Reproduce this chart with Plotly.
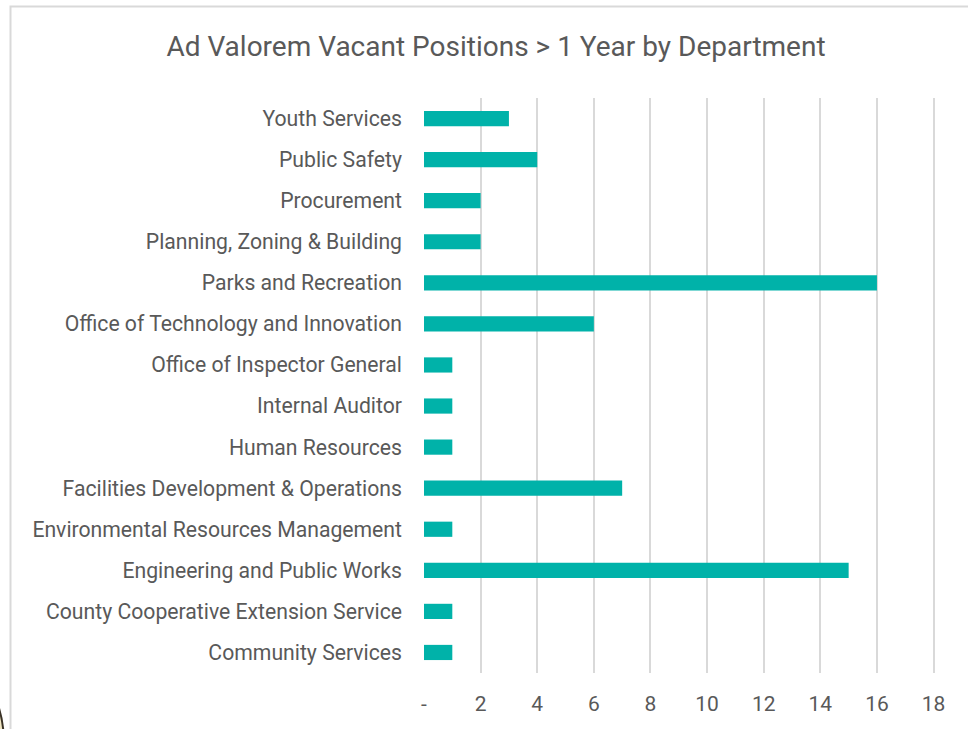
import plotly.graph_objects as go

departments = [
    "Community Services",
    "County Cooperative Extension Service",
    "Engineering and Public Works",
    "Environmental Resources Management",
    "Facilities Development & Operations",
    "Human Resources",
    "Internal Auditor",
    "Office of Inspector General",
    "Office of Technology and Innovation",
    "Parks and Recreation",
    "Planning, Zoning & Building",
    "Procurement",
    "Public Safety",
    "Youth Services",
]
vacancies = [1, 1, 15, 1, 7, 1, 1, 1, 6, 16, 2, 2, 4, 3]

tick_vals = [0, 2, 4, 6, 8, 10, 12, 14, 16, 18]
tick_text = ["-", "2", "4", "6", "8", "10", "12", "14", "16", "18"]

W, H = 968, 729
L, R, T, B = 424, 33, 98, 56
PW, PH = W - L - R, H - T - B
FONT = "Roboto"
GRAY = "#595959"

fig = go.Figure(
    go.Bar(
        y=departments,
        x=vacancies,
        orientation="h",
        marker=dict(color="#00B2A9", line=dict(width=0)),
        width=0.37,
        hoverinfo="x+y",
    )
)

fig.update_layout(
    width=W,
    height=H,
    margin=dict(l=L, r=R, t=T, b=B),
    paper_bgcolor="white",
    plot_bgcolor="white",
    showlegend=False,
    title=dict(
        text="Ad Valorem Vacant Positions > 1 Year by Department",
        x=496 / W,
        xanchor="center",
        y=1 - 46 / H,
        yanchor="middle",
        font=dict(family=FONT, size=28, color=GRAY),
    ),
    font=dict(family=FONT, color=GRAY),
    xaxis=dict(
        range=[0, 18.05],
        tickvals=tick_vals,
        ticktext=tick_text,
        showgrid=True,
        gridcolor="#D9D9D9",
        gridwidth=1.5,
        zeroline=False,
        showline=False,
        ticks="",
        ticklabelstandoff=16,
        tickfont=dict(family=FONT, size=21, color=GRAY),
        fixedrange=True,
    ),
    yaxis=dict(
        showgrid=False,
        zeroline=False,
        showline=False,
        ticks="",
        ticklabelstandoff=21,
        tickfont=dict(family=FONT, size=21.2, color=GRAY),
        range=[-0.5, 13.5],
        fixedrange=True,
    ),
    shapes=[
        dict(
            type="rect",
            xref="paper",
            yref="paper",
            x0=(10.5 - L) / PW,
            x1=(990 - L) / PW,
            y0=-(80) / PH,
            y1=1 + (T - 6.5) / PH,
            line=dict(color="#D9D9D9", width=2),
            fillcolor="rgba(0,0,0,0)",
            layer="below",
        ),
        dict(
            type="circle",
            xref="paper",
            yref="paper",
            x0=(-60 - L) / PW,
            x1=(4 - L) / PW,
            y0=-(140) / PH,
            y1=-(677 - (H - B)) / PH,
            line=dict(color="#3a3226", width=2),
            fillcolor="#F3E9C6",
            layer="below",
        ),
    ],
)

fig.write_html(
    "out.html",
    config={"displayModeBar": False},
    post_script="document.body.style.margin='0px';document.body.style.overflow='hidden';",
)
